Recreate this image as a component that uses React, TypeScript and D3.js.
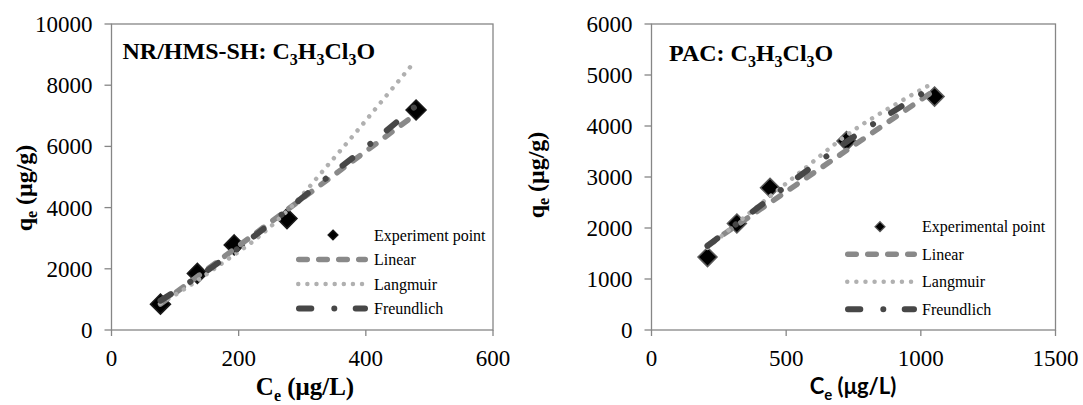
import React from 'react';
import * as d3 from 'd3';

const W = 1083;
const H = 405;

// ---- NR/HMS-SH : C3H3Cl3O ----
const nrCe = [77, 135, 193, 276, 479];
const nrQe = [845, 1850, 2780, 3640, 7190];
const nrLinearCe = [77, 479];
const nrLinearQe = [850, 7060];
const nrLangmuirCe = [77, 108, 173, 234, 289, 335, 382, 430, 478];
const nrLangmuirQe = [870, 1250, 2170, 3090, 4160, 5260, 6400, 7600, 8800];
const nrFreundlichCe = [77, 160, 255, 330, 410, 479];
const nrFreundlichQe = [960, 2080, 3560, 4830, 6130, 7330];
const nrXTicks = [0, 200, 400, 600];
const nrYTicks = [0, 2000, 4000, 6000, 8000, 10000];

// ---- PAC : C3H3Cl3O ----
const pacCe = [208, 317, 440, 724, 1051];
const pacQe = [1430, 2087, 2790, 3704, 4576];
const pacLinearCe = [208, 1051];
const pacLinearQe = [1660, 4700];
const pacLangmuirCe = [208, 372, 537, 746, 898, 1045];
const pacLangmuirQe = [1610, 2330, 3030, 3900, 4400, 4840];
const pacFreundlichCe = [208, 390, 512, 638, 768, 896, 1040];
const pacFreundlichQe = [1650, 2380, 2870, 3360, 3850, 4280, 4750];
const pacXTicks = [0, 500, 1000, 1500];
const pacYTicks = [0, 1000, 2000, 3000, 4000, 5000, 6000];

const SERIF = '"Times New Roman", "Liberation Serif", Tinos, "DejaVu Serif", serif';
const SANS = 'Lato, "Open Sans", sans-serif';
const AXIS = '#868686';

const lineStyles = {
  linear: { stroke: '#898989', width: 5.5, dash: '8.5 11.5' },
  langmuir: { stroke: '#b0b0b0', width: 4.5, dash: '0.01 9.1' },
  freundlich: { stroke: '#474747', width: 6, dash: '12.3 23 0.01 21.4' },
};

type Pt = [number, number];
const zip = (xs: number[], ys: number[]): Pt[] => xs.map((x, i) => [x, ys[i]]);

const diamond = (cx: number, cy: number, r: number) =>
  `M${cx},${cy - r}L${cx + r},${cy}L${cx},${cy + r}L${cx - r},${cy}Z`;

type PanelProps = {
  left: number;
  right: number;
  top: number;
  bottom: number;
  xMax: number;
  yMax: number;
  xTicks: number[];
  yTicks: number[];
  points: Pt[];
  linear: Pt[];
  langmuir: Pt[];
  freundlich: Pt[];
  titleX: number;
  titleY: number;
  titleLead: string;
  pointLabel: string;
  pointStroke: string;
  pointR: number;
  legend: { symX: number; x1: number; x2: number; textX: number; rows: number[] };
  yTitle: { x: number; y: number };
  xTitle: { x: number; y: number; font: string; size: number; subSize: number };
};

function Panel(p: PanelProps) {
  const x = d3.scaleLinear().domain([0, p.xMax]).range([p.left, p.right]);
  const y = d3.scaleLinear().domain([0, p.yMax]).range([p.bottom, p.top]);
  const line = d3
    .line<Pt>()
    .x((d) => x(d[0]))
    .y((d) => y(d[1]))
    .curve(d3.curveMonotoneX);

  const fits: [keyof typeof lineStyles, Pt[]][] = [
    ['linear', p.linear],
    ['langmuir', p.langmuir],
    ['freundlich', p.freundlich],
  ];
  const legendLabels = ['Linear', 'Langmuir', 'Freundlich'];

  return (
    <g>
      {/* plot frame */}
      <rect
        x={p.left}
        y={p.top}
        width={p.right - p.left}
        height={p.bottom - p.top}
        fill="none"
        stroke={AXIS}
        strokeWidth={1.3}
      />
      {/* y ticks */}
      {p.yTicks.map((v) => (
        <g key={'y' + v}>
          <line x1={p.left - 7} x2={p.left} y1={y(v)} y2={y(v)} stroke={AXIS} strokeWidth={1.3} />
          <text
            x={p.left - 19}
            y={y(v) + 8}
            textAnchor="end"
            style={{ fontFamily: SERIF }}
            fontSize={23}
            fill="#000"
          >
            {v}
          </text>
        </g>
      ))}
      {/* x ticks */}
      {p.xTicks.map((v) => (
        <g key={'x' + v}>
          <line x1={x(v)} x2={x(v)} y1={p.bottom} y2={p.bottom + 6} stroke={AXIS} strokeWidth={1.3} />
          <text
            x={x(v)}
            y={366}
            textAnchor="middle"
            style={{ fontFamily: SERIF }}
            fontSize={23}
            fill="#000"
          >
            {v}
          </text>
        </g>
      ))}

      {/* experimental points */}
      {p.points.map((d, i) => (
        <path
          key={'pt' + i}
          d={diamond(x(d[0]), y(d[1]), p.pointR)}
          fill="#000"
          stroke={p.pointStroke}
          strokeWidth={1.5}
        />
      ))}

      {/* isotherm fits */}
      {fits.map(([k, pts]) => (
        <path
          key={k}
          d={line(pts) || ''}
          fill="none"
          stroke={lineStyles[k].stroke}
          strokeWidth={lineStyles[k].width}
          strokeDasharray={lineStyles[k].dash}
          strokeLinecap="round"
        />
      ))}

      {/* panel title */}
      <text
        x={p.titleX}
        y={p.titleY}
        style={{ fontFamily: SERIF }}
        fontWeight="bold"
        fontSize={24}
        fill="#000"
      >
        {p.titleLead}C<tspan fontSize={16} dy={6}>3</tspan>
        <tspan dy={-6}>H</tspan>
        <tspan fontSize={16} dy={6}>3</tspan>
        <tspan dy={-6}>Cl</tspan>
        <tspan fontSize={16} dy={6}>3</tspan>
        <tspan dy={-6}>O</tspan>
      </text>

      {/* legend */}
      <path
        d={diamond(p.legend.symX, p.legend.rows[0], 5)}
        fill="#000"
        stroke={p.pointStroke}
        strokeWidth={1.2}
      />
      <text
        x={p.legend.textX}
        y={p.legend.rows[0] + 5.5}
        style={{ fontFamily: SERIF }}
        fontSize={16}
        fill="#000"
      >
        {p.pointLabel}
      </text>
      {fits.map(([k], i) => (
        <g key={'lg' + k}>
          <line
            x1={p.legend.x1 + lineStyles[k].width / 2}
            x2={p.legend.x2 - lineStyles[k].width / 2}
            y1={p.legend.rows[i + 1]}
            y2={p.legend.rows[i + 1]}
            stroke={lineStyles[k].stroke}
            strokeWidth={lineStyles[k].width}
            strokeDasharray={lineStyles[k].dash}
            strokeLinecap="round"
          />
          <text
            x={p.legend.textX}
            y={p.legend.rows[i + 1] + 5.5}
            style={{ fontFamily: SERIF }}
            fontSize={16}
            fill="#000"
          >
            {legendLabels[i]}
          </text>
        </g>
      ))}

      {/* y-axis title */}
      <text
        transform={`translate(${p.yTitle.x},${p.yTitle.y}) rotate(-90)`}
        textAnchor="middle"
        style={{ fontFamily: SERIF }}
        fontWeight="bold"
        fontSize={24}
        fill="#000"
      >
        q<tspan fontSize={16} dy={5}>e</tspan>
        <tspan dy={-5}> (μg/g)</tspan>
      </text>

      {/* x-axis title */}
      <text
        x={p.xTitle.x}
        y={p.xTitle.y}
        textAnchor="middle"
        style={{ fontFamily: p.xTitle.font }}
        fontWeight="bold"
        fontSize={p.xTitle.size}
        fill="#000"
      >
        C<tspan fontSize={p.xTitle.subSize} dy={6}>e</tspan>
        <tspan dy={-6}> (μg/L)</tspan>
      </text>
    </g>
  );
}

export default function App() {
  return (
    <svg
      width={W}
      height={H}
      viewBox={`0 0 ${W} ${H}`}
      style={{ position: 'absolute', left: 0, top: 0, background: '#fff' }}
    >
      <rect width={W} height={H} fill="#fff" />
      <Panel
        left={111.5}
        right={493}
        top={24}
        bottom={330}
        xMax={600}
        yMax={10000}
        xTicks={nrXTicks}
        yTicks={nrYTicks}
        points={zip(nrCe, nrQe)}
        linear={zip(nrLinearCe, nrLinearQe)}
        langmuir={zip(nrLangmuirCe, nrLangmuirQe)}
        freundlich={zip(nrFreundlichCe, nrFreundlichQe)}
        titleX={122.5}
        titleY={58.5}
        titleLead="NR/HMS-SH: "
        pointLabel="Experiment point"
        pointStroke="#1a1a1a"
        pointR={10}
        legend={{ symX: 333, x1: 296, x2: 368, textX: 374, rows: [235, 259.5, 284, 308.5] }}
        yTitle={{ x: 32, y: 188 }}
        xTitle={{ x: 305, y: 395, font: SERIF, size: 25, subSize: 16 }}
      />
      <Panel
        left={651.5}
        right={1055.5}
        top={24}
        bottom={330}
        xMax={1500}
        yMax={6000}
        xTicks={pacXTicks}
        yTicks={pacYTicks}
        points={zip(pacCe, pacQe)}
        linear={zip(pacLinearCe, pacLinearQe)}
        langmuir={zip(pacLangmuirCe, pacLangmuirQe)}
        freundlich={zip(pacFreundlichCe, pacFreundlichQe)}
        titleX={669}
        titleY={60.5}
        titleLead="PAC: "
        pointLabel="Experimental point"
        pointStroke="#5a5a5a"
        pointR={9.5}
        legend={{ symX: 880, x1: 845, x2: 917, textX: 922, rows: [226.7, 254.3, 281.7, 309.3] }}
        yTitle={{ x: 544, y: 175 }}
        xTitle={{ x: 853, y: 394, font: SANS, size: 22, subSize: 15 }}
      />
    </svg>
  );
}
